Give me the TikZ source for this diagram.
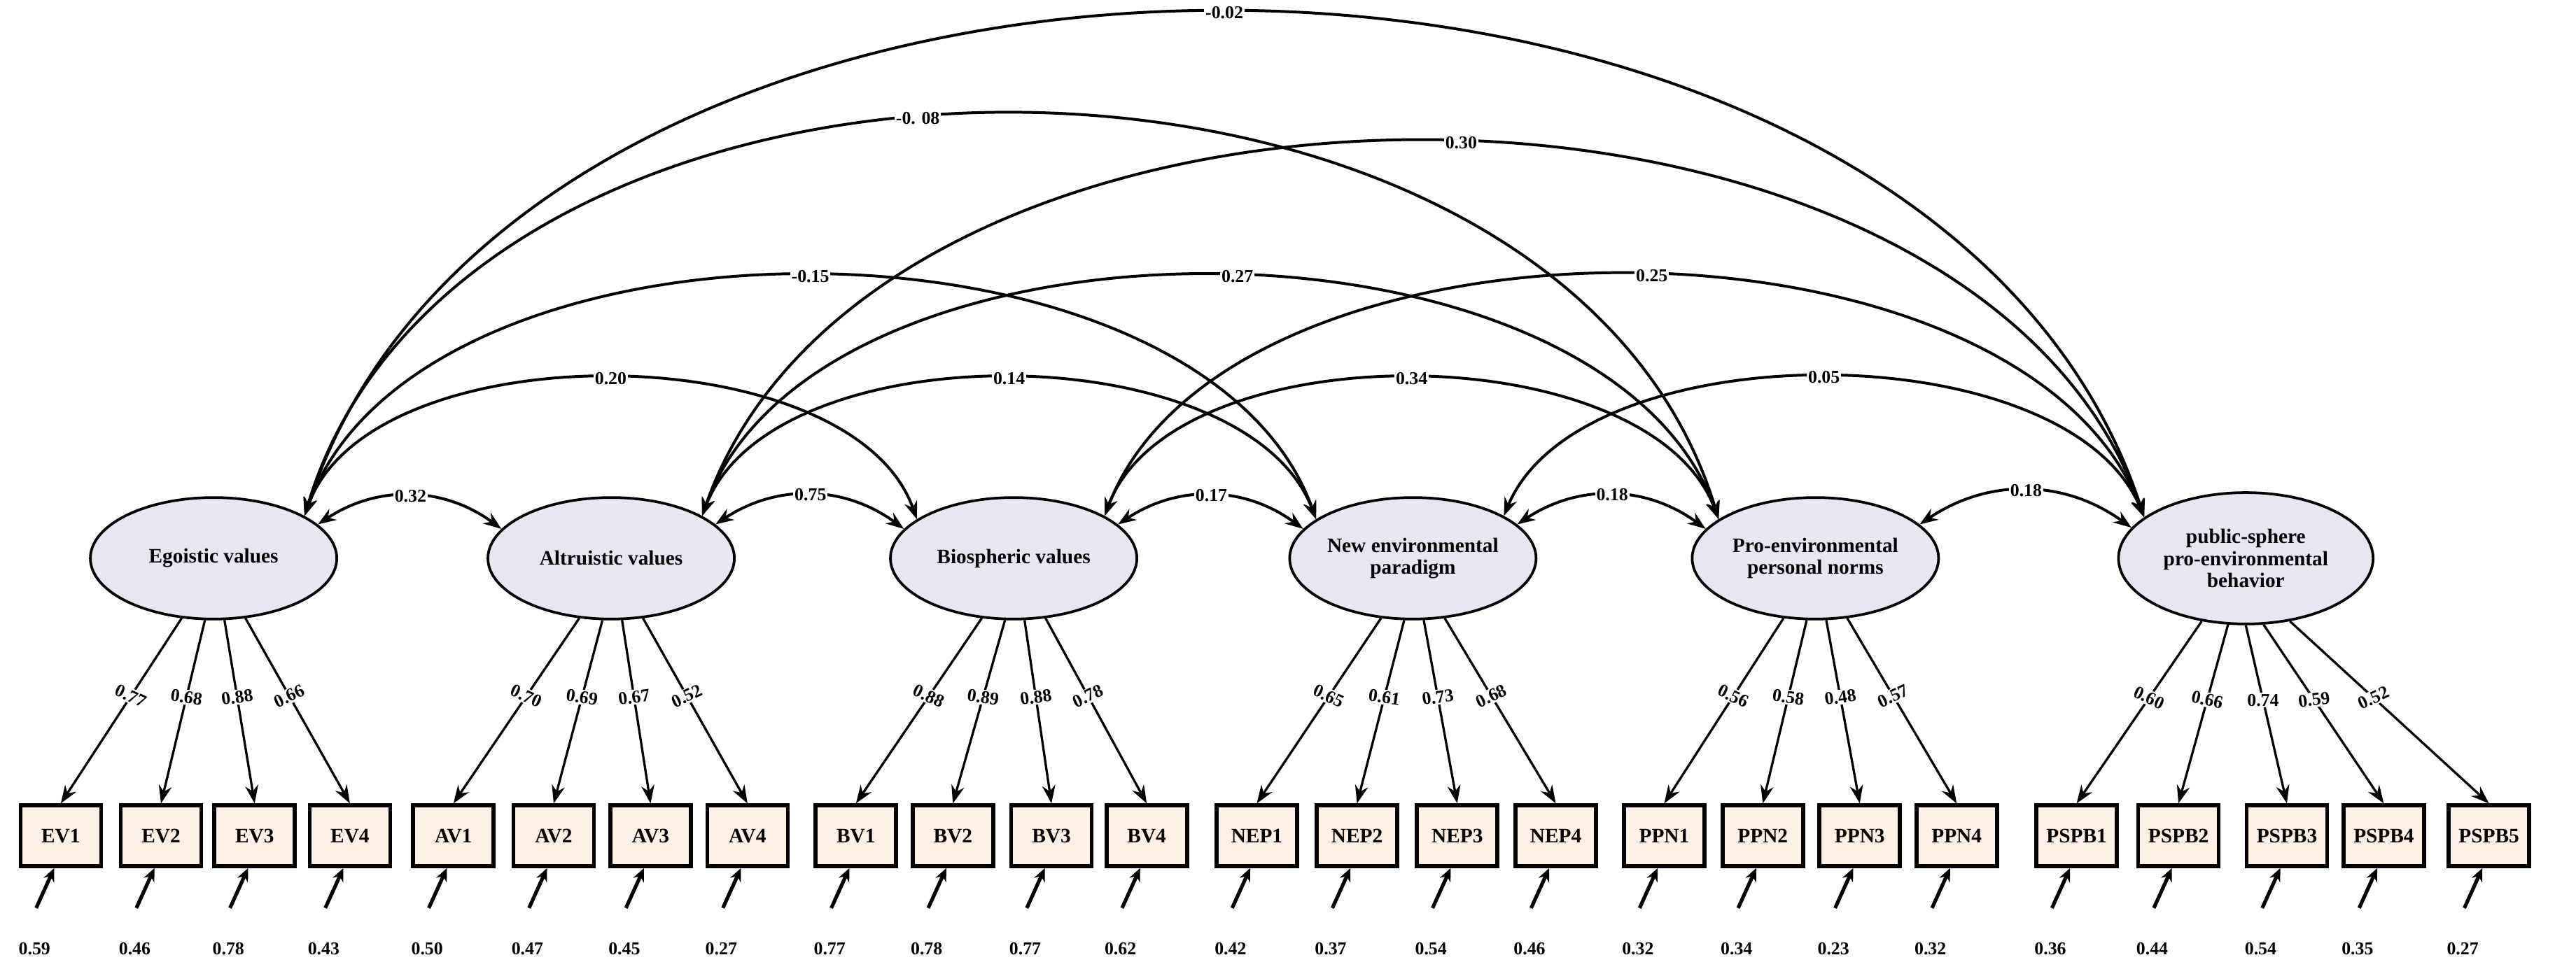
\documentclass[tikz,border=0pt]{standalone}
\usepackage{fontspec}
\setmainfont{Liberation Serif}
\usetikzlibrary{arrows.meta,shapes.geometric}
\definecolor{boxfill}{RGB}{253,240,228}
\definecolor{latfill}{RGB}{232,230,240}
\begin{document}
\begin{tikzpicture}[x=1pt,y=-1pt,
 lat/.style={ellipse,draw,line width=1.6pt,fill=latfill,minimum width=150pt,minimum height=74pt,align=center,font=\bfseries\fontsize{12.5}{13.5}\selectfont,inner sep=0pt},
 obs/.style={rectangle,draw,line width=2.4pt,fill=boxfill,minimum width=49pt,minimum height=37pt,font=\bfseries\fontsize{12.5}{14}\selectfont,inner sep=0pt},
 ld/.style={line width=1.4pt,-{Stealth[length=11pt,width=8pt]}},
 cov/.style={line width=1.7pt,{Stealth[length=11pt,width=8pt]}-{Stealth[length=11pt,width=8pt]}},
 lab/.style={fill=white,inner sep=0.8pt,font=\bfseries\fontsize{11}{12}\selectfont},
 err/.style={line width=2.2pt,-{Stealth[length=8pt,width=7pt]}},
 elab/.style={font=\bfseries\fontsize{11}{12}\selectfont}]
\useasboundingbox (0,0) rectangle (1568,594);
\node[lat] (ego) at (130,340) {Egoistic values};
\node[lat] (alt) at (372,340) {Altruistic values};
\node[lat] (bio) at (617,340) {Biospheric values};
\node[lat] (nep) at (860,340) {New environmental\\paradigm};
\node[lat] (ppn) at (1105,340) {Pro-environmental\\personal norms};
\node[lat,minimum width=155pt,minimum height=80pt] (psb) at (1367,340) {public-sphere\\pro-environmental\\behavior};
% observed
\foreach \n/\x/\e in {EV1/37/0.59,EV2/98/0.46,EV3/155/0.78,EV4/213/0.43,AV1/276/0.50,AV2/337/0.47,AV3/396/0.45,AV4/455/0.27,BV1/521/0.77,BV2/580/0.78,BV3/640/0.77,BV4/698/0.62,NEP1/765/0.42,NEP2/826/0.37,NEP3/887/0.54,NEP4/947/0.46,PPN1/1013/0.32,PPN2/1073/0.34,PPN3/1132/0.23,PPN4/1191/0.32,PSPB1/1264/0.36,PSPB2/1326/0.44,PSPB3/1392/0.54,PSPB4/1451/0.35,PSPB5/1515/0.27}{
 \node[obs] (\n) at (\x,509) {\n};
 \coordinate (e\n) at (\x-15,553);
 \draw[err] (e\n) -- ([xshift=-4pt]\n.south);
 \node[elab] (l\n) at (\x-16,578) {\e};
}
% loadings
\foreach \l/\o/\a/\v/\r in {ego/EV1/242/0.77/-25,ego/EV2/262/0.68/-8,ego/EV3/280/0.88/8,ego/EV4/298/0.66/25,
 alt/AV1/242/0.70/-25,alt/AV2/262/0.69/-8,alt/AV3/280/0.67/8,alt/AV4/298/0.52/25,
 bio/BV1/242/0.88/-25,bio/BV2/262/0.89/-8,bio/BV3/280/0.88/8,bio/BV4/298/0.78/25,
 nep/NEP1/242/0.65/-25,nep/NEP2/262/0.61/-8,nep/NEP3/280/0.73/8,nep/NEP4/298/0.68/25,
 ppn/PPN1/242/0.56/-25,ppn/PPN2/262/0.58/-8,ppn/PPN3/280/0.48/8,ppn/PPN4/298/0.57/25,
 psb/PSPB1/235/0.60/-25,psb/PSPB2/255/0.66/-12,psb/PSPB3/270/0.74/0,psb/PSPB4/285/0.59/8,psb/PSPB5/305/0.52/25}{
 \draw[ld] (\l.\a) -- (\o.north) node[lab,pos=.42,rotate=\r]{\v};
}
% adjacent covariances
\draw[cov] (ego.18) to[bend left=35] node[lab]{0.32} (alt.165);
\draw[cov] (alt.18) to[bend left=35] node[lab]{0.75} (bio.165);
\draw[cov] (bio.18) to[bend left=35] node[lab]{0.17} (nep.165);
\draw[cov] (nep.18) to[bend left=35] node[lab]{0.18} (ppn.165);
\draw[cov] (ppn.18) to[bend left=35] node[lab]{0.18} (psb.165);
% long covariances
\draw[cov] (ego.25) .. controls +(133,-409) and +(-133,-409) .. (psb.158) node[lab,pos=.5]{-0.02};
\draw[cov] (ego.25) .. controls +(98,-327) and +(-98,-327) .. (ppn.158) node[lab,pos=.45]{-0. 08};
\draw[cov] (alt.25) .. controls +(106,-304) and +(-106,-304) .. (psb.158) node[lab,pos=.52]{0.30};
\draw[cov] (ego.25) .. controls +(70,-196) and +(-70,-196) .. (nep.158) node[lab,pos=.5]{-0.15};
\draw[cov] (alt.25) .. controls +(70,-196) and +(-70,-196) .. (ppn.158) node[lab,pos=.52]{0.27};
\draw[cov] (bio.25) .. controls +(75,-196) and +(-75,-196) .. (psb.158) node[lab,pos=.52]{0.25};
\draw[cov] (ego.25) .. controls +(40,-113) and +(-40,-113) .. (bio.158) node[lab,pos=.5]{0.20};
\draw[cov] (alt.25) .. controls +(43,-113) and +(-43,-113) .. (nep.158) node[lab,pos=.5]{0.14};
\draw[cov] (bio.25) .. controls +(42,-113) and +(-42,-113) .. (ppn.158) node[lab,pos=.5]{0.34};
\draw[cov] (nep.25) .. controls +(47,-113) and +(-47,-113) .. (psb.158) node[lab,pos=.5]{0.05};
\end{tikzpicture}
\end{document}
